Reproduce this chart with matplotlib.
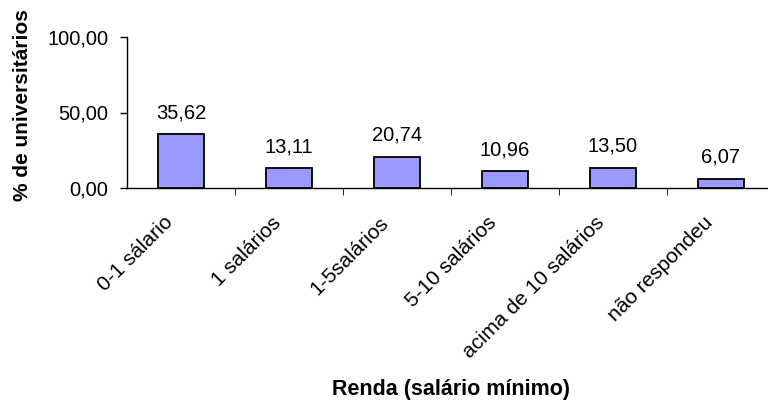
import matplotlib.pyplot as plt
import matplotlib.transforms as mtransforms
import numpy as np

plt.rcParams['font.family'] = ['Liberation Sans', 'DejaVu Sans']

categorias = ['0-1 sálario', '1 salários', '1-5salários', '5-10 salários',
              'acima de 10 salários', 'não respondeu']
percentuais = [35.62, 13.11, 20.74, 10.96, 13.50, 6.07]

fig = plt.figure(figsize=(7.68, 4.0), dpi=100)
ax = fig.add_axes([127 / 768, 1 - 188 / 400, 648 / 768, 151 / 400])

x = np.arange(len(categorias))
ax.bar(x, percentuais, width=0.42, color='#9999FF', edgecolor='black',
       linewidth=1.3, zorder=3)

def fmt(v):
    return f'{v:.2f}'.replace('.', ',')

for xi, v in zip(x, percentuais):
    ax.annotate(fmt(v), (xi, v), xytext=(0, 11.5), textcoords='offset points',
                ha='center', va='baseline', fontsize=14.5)

ax.set_xlim(-0.5, len(categorias) - 0.5)
ax.set_ylim(0, 100)
ax.set_yticks([0, 50, 100])
ax.set_yticklabels([fmt(t) for t in [0, 50, 100]], fontsize=14.5)

# ticks on the category boundaries, labels at the centres
ax.set_xticks(x)
ax.set_xticklabels(categorias, rotation=45, ha='right', rotation_mode='anchor',
                   fontsize=15)
ax.tick_params(axis='x', length=0, pad=18)
shift = mtransforms.ScaledTranslation(-18 / 100, 0, fig.dpi_scale_trans)
for lbl in ax.get_xticklabels():
    lbl.set_transform(lbl.get_transform() + shift)
ax.set_xticks(np.arange(len(categorias)) + 0.5, minor=True)
ax.tick_params(axis='x', which='minor', length=5, direction='out')
ax.tick_params(axis='y', length=5, direction='out', width=1, pad=8.5)

for s in ['top', 'right']:
    ax.spines[s].set_visible(False)
ax.spines['left'].set_linewidth(1)
ax.spines['bottom'].set_linewidth(1)

ax.set_ylabel('% de universitários', fontsize=15, fontweight='bold')
ax.yaxis.set_label_coords(-0.147, 0.55)
fig.text(451 / 768, 1 - 390 / 400, 'Renda (salário mínimo)', ha='center',
         va='center', fontsize=15.5, fontweight='bold')

fig.savefig('out.png', dpi=100)
